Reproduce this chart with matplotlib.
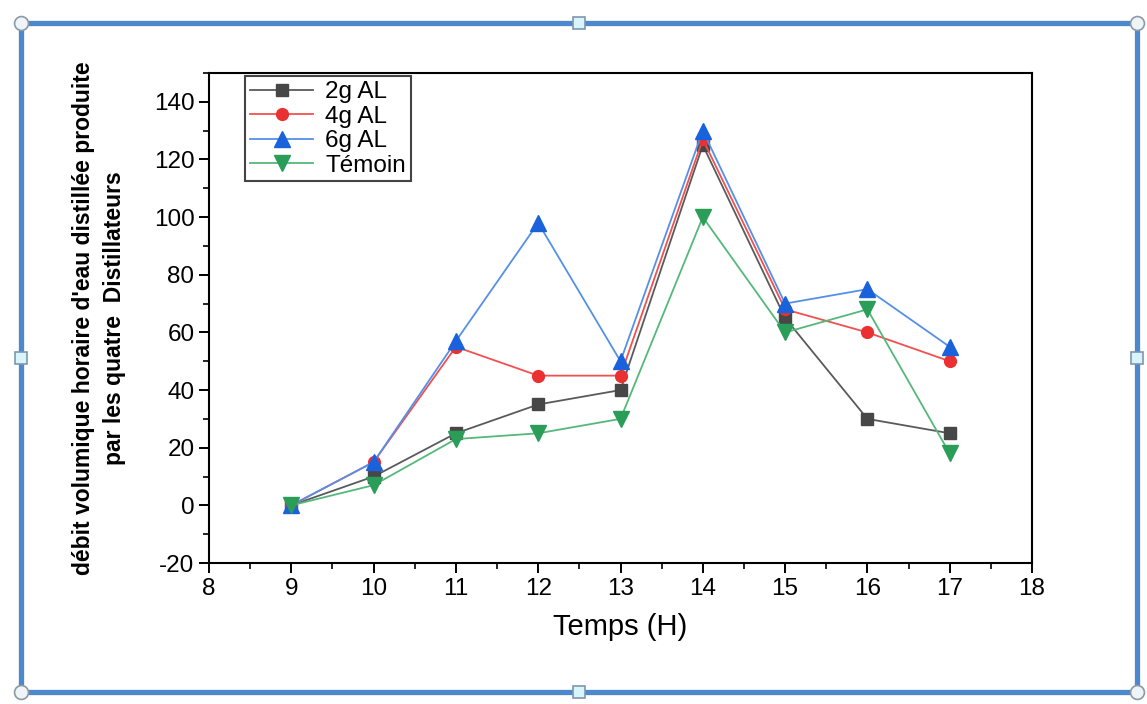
import matplotlib
matplotlib.use("Agg")
import matplotlib.pyplot as plt
from matplotlib.patches import Rectangle
from matplotlib.lines import Line2D
from matplotlib.ticker import MultipleLocator

plt.rcParams['font.family'] = ['Liberation Sans', 'DejaVu Sans']
plt.rcParams['axes.unicode_minus'] = False

heures = [9, 10, 11, 12, 13, 14, 15, 16, 17]
al_2g = [0, 10, 25, 35, 40, 125, 65, 30, 25]
al_4g = [0, 15, 55, 45, 45, 127, 68, 60, 50]
al_6g = [0, 15, 57, 98, 50, 130, 70, 75, 55]
temoin = [0, 7, 23, 25, 30, 100, 60, 68, 18]

W, H = 1147, 704
fig = plt.figure(figsize=(W / 100, H / 100), dpi=100)
ax = fig.add_axes([209 / W, 1 - 563 / H, (1032 - 209) / W, (563 - 73) / H])

ax.plot(heures, al_2g, color='#5a5a5a', lw=1.3, marker='s', ms=8,
        mfc='#474747', mec='#474747', label='2g AL')
ax.plot(heures, al_4g, color='#f25050', lw=1.3, marker='o', ms=8.5,
        mfc='#ea3030', mec='#ea3030', label='4g AL')
ax.plot(heures, al_6g, color='#5590e8', lw=1.3, marker='^', ms=11.5,
        mfc='#1a62dc', mec='#1a62dc', label='6g AL')
ax.plot(heures, temoin, color='#55b87a', lw=1.3, marker='v', ms=11.5,
        mfc='#2a9e58', mec='#2a9e58', label='Témoin')

ax.set_xlim(8, 18)
ax.set_ylim(-20, 150)
ax.xaxis.set_major_locator(MultipleLocator(1))
ax.xaxis.set_minor_locator(MultipleLocator(0.5))
ax.yaxis.set_minor_locator(MultipleLocator(10))
ax.set_yticks(range(-20, 141, 20))
ax.tick_params(which='major', direction='out', length=7, width=1.4,
               labelsize=17.5, top=False, right=False)
ax.tick_params(which='minor', direction='out', length=4, width=1.2,
               top=False, right=False)
for s in ax.spines.values():
    s.set_linewidth(1.5)

ax.set_xlabel('Temps (H)', fontsize=21, labelpad=10)
ax.set_ylabel("débit volumique horaire d'eau distillée produite\npar les quatre  Distillateurs",
              fontsize=16.5, fontweight='bold', labelpad=20, linespacing=1.45)

leg = ax.legend(loc='upper left', bbox_to_anchor=(0.044, 0.993), borderaxespad=0,
                fontsize=17.5, fancybox=False, edgecolor='#444444', handlelength=2.6,
                labelspacing=0.1, borderpad=0.2, handletextpad=0.5, framealpha=1)
leg.get_frame().set_linewidth(1.5)

# cadre bleu de sélection
x0, y0, x1, y1 = 21, 23, 1137, 692
fig.add_artist(Rectangle((x0 / W, 1 - y1 / H), (x1 - x0) / W, (y1 - y0) / H,
                         transform=fig.transFigure, fill=False,
                         edgecolor='#4d88cc', lw=3.8))
for px, py in [(x0, y0), (x1, y0), (x0, y1), (x1, y1)]:
    fig.add_artist(Line2D([px / W], [1 - py / H], marker='o', ms=10,
                          mfc='#eef4f8', mec='#8c9aa6', mew=1.2,
                          transform=fig.transFigure))
for px, py in [((x0 + x1) / 2, y0), ((x0 + x1) / 2, y1), (x0, (y0 + y1) / 2), (x1, (y0 + y1) / 2)]:
    fig.add_artist(Line2D([px / W], [1 - py / H], marker='s', ms=9,
                          mfc='#d8f4fc', mec='#7f97ad', mew=1.2,
                          transform=fig.transFigure))

fig.savefig('out.png', dpi=100)
